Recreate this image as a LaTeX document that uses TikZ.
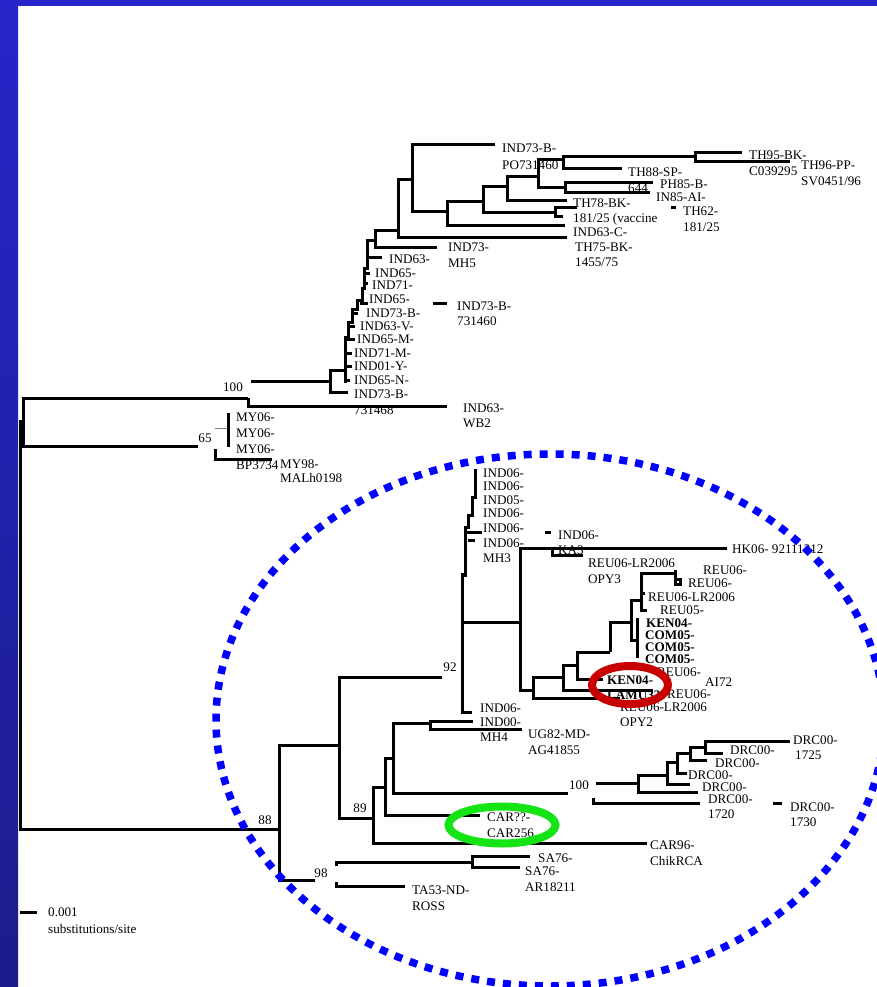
\documentclass[tikz,border=0pt]{standalone}
\usepackage{fontspec}
\setmainfont{Liberation Serif}
\definecolor{frametop}{RGB}{38,38,202}
\definecolor{framebot}{RGB}{28,28,140}
\definecolor{ringred}{RGB}{200,0,0}
\definecolor{ringgreen}{RGB}{20,228,20}
\begin{document}
\begin{tikzpicture}[x=.03cm,y=-.03cm,font=\fontsize{11.2}{13.6}\selectfont,
  br/.style={line width=.09cm},
  lab/.style={anchor=west,inner sep=0pt},
  labb/.style={lab,font=\fontsize{11.2}{13.6}\selectfont\bfseries},
  bs/.style={inner sep=0pt},
  ring/.style={line width=.24cm}]
\useasboundingbox(0,0)rectangle(877,987);
\shade[top color=frametop,bottom color=framebot](0,0)rectangle(18,987);
\fill[frametop](0,0)rectangle(877,6);
\draw[br](23,421)--(20,421)--(20,829)--(279,829);
\draw[br](248,398)--(23,398)--(23,446)--(198,446);
\draw[br](215,449)--(215,459)--(272,459);
\draw[line width=.03cm,gray](215,428)--(228,428);
\draw[br](228,413)--(228,447);
\draw[br](248,398)--(248,406)--(447,406);
\draw[br](251,381)--(330,381);
\draw[br](345,370)--(330,370)--(330,392)--(348,392);
\draw[br](345,383)--(345,337)--(348,337)--(348,322)--(352,322)--(352,309)--(357,309)--(357,300)--(362,300)--(362,288)--(364,288)--(364,268)--(367,268)--(367,257)--(382,257);
\foreach \y/\a/\b in {380/345/350,366/345/352,353/345/352,339/345/355,326/348/355,313/352/358,303/360/368,283/364/368,273/364/370}\draw[br](\a,\y)--(\b,\y);
\draw[br](367,257)--(367,240)--(375,240)--(375,247)--(437,247);
\draw[br](375,240)--(375,230)--(398,230);
\draw[br](412,180)--(398,180)--(398,237)--(567,237);
\draw[br](433,303)--(447,303);
\draw[br](495,145)--(412,145)--(412,212)--(447,212);
\draw[br](483,202)--(447,202)--(447,225)--(565,225);
\draw[br](507,187)--(483,187)--(483,213)--(555,213);
\draw[br](577,208)--(555,208)--(555,217)--(563,217);
\draw[br](538,177)--(507,177)--(507,201)--(567,201);
\draw[br](563,160)--(538,160)--(538,188)--(565,188);
\draw[br](695,157)--(563,157)--(563,169)--(622,169);
\draw[br](653,183)--(565,183)--(565,193)--(650,193);
\draw[br](742,153)--(695,153)--(695,162)--(790,162);
\draw[br](671,208)--(676,208);
\draw[br](279,829)--(279,880)--(315,880);
\draw[br](279,829)--(279,745)--(339,745);
\draw[br](336,866)--(336,862)--(472,862);
\draw[br](336,882)--(336,886)--(405,886);
\draw[br](530,856)--(472,856)--(472,867)--(520,867);
\draw[br](442,677)--(339,677)--(339,818)--(373,818);
\draw[br](385,787)--(373,787)--(373,843)--(647,843);
\draw[br](393,758)--(385,758)--(385,815)--(480,815);
\draw[br](430,723)--(393,723)--(393,793)--(568,793);
\draw[br](473,721)--(430,721)--(430,729)--(522,729);
\draw[br](638,783)--(596,783);
\draw[br](593,798)--(593,803)--(700,803);
\draw[br](667,775)--(638,775)--(638,792)--(698,792);
\draw[br](677,762)--(667,762)--(667,784)--(690,784);
\draw[br](690,753)--(677,753)--(677,773)--(687,773);
\draw[br](705,747)--(690,747)--(690,760)--(707,760);
\draw[br](790,741)--(705,741)--(705,753)--(723,753);
\draw[br](773,803)--(782,803);
\draw[br](462,573)--(462,712)--(472,712);
\draw[br](462,622)--(520,622);
\draw[br](462,575)--(465,575)--(465,527)--(468,527)--(468,515)--(472,515)--(472,497)--(475,497)--(475,469);
\draw[br](465,532)--(482,532);
\draw[br](468,540)--(475,540);
\draw[br](545,532)--(551,532);
\draw[br](552,548)--(520,548)--(520,690)--(533,690);
\draw[br](727,548)--(552,548)--(552,555)--(583,555);
\draw[br](563,677)--(533,677)--(533,698)--(620,698);
\draw[br](577,665)--(563,665)--(563,690)--(653,690);
\draw[br](610,652)--(577,652)--(577,679)--(603,679);
\draw[br](610,652)--(610,622)--(631,622);
\draw[br](641,600)--(631,600)--(631,640)--(637,640);
\draw[br](637,618)--(637,658);
\draw[br](675,573)--(641,573)--(641,610)--(647,610);
\draw[br](641,593)--(645,593);
\draw[br](675,570)--(675,584)--(680,584)--(680,579)--(675,579);
\draw[br](20,912)--(37,912);
\foreach \n/\x/\y/\t in {
 a1/502/148/{IND73-B-},a1b/502/165/{PO731460},a2/628/172/{TH88-SP-},a2b/628/188/{644},
 a3/660/184/{PH85-B-},a4/656/197/{IN85-AI-},a5/749/155/{TH95-BK-},a5b/749/171/{C039295},
 a6/801/165/{TH96-PP-},a6b/801/181/{SV0451/96},a7/683/211/{TH62-},a7b/683/227/{181/25},
 a8/573/203/{TH78-BK-},a8b/573/219/{181/25 (vaccine},a9/573/232/{IND63-C-},
 a10/575/247/{TH75-BK-},a10b/575/262/{1455/75},a11/448/247/{IND73-},a11b/448/263/{MH5},
 a12/389/259/{IND63-},a13/375/273/{IND65-},a14/372/285/{IND71-},a15/369/299/{IND65-},
 a16/366/313/{IND73-B-},a17/360/326/{IND63-V-},a18/357/339/{IND65-M-},a19/354/353/{IND71-M-},
 a20/354/366/{IND01-Y-},a21/354/380/{IND65-N-},a22/354/394/{IND73-B-},a22b/354/410/{731468},
 a23/457/306/{IND73-B-},a23b/457/321/{731460},a24/463/408/{IND63-},a24b/463/423/{WB2},
 m1/236/417/{MY06-},m2/236/433/{MY06-},m3/236/449/{MY06-},m3b/236/465/{BP3734},
 m4/280/464/{MY98-},m4b/280/478/{MALh0198},
 c1/483/473/{IND06-},c2/483/486/{IND06-},c3/483/500/{IND05-},c4/483/513/{IND06-},c5/483/528/{IND06-},
 c6/483/543/{IND06-},c6b/483/558/{MH3},c7/558/535/{IND06-},c7b/558/550/{KA3},c8/732/549/{HK06- 92111312},
 c9/588/563/{REU06-LR2006},c9b/588/579/{OPY3},c10/703/570/{REU06-},c11/688/583/{REU06-},
 c12/648/597/{REU06-LR2006},c13/660/610/{REU05-},c14/657/672/{REU06-},c15/705/682/{AI72},
 c16/667/694/{REU06-},c17/620/707/{REU06-LR2006},c17b/620/722/{OPY2},
 c18/480/708/{IND06-},c19/480/722/{IND00-},c19b/480/737/{MH4},c20/528/734/{UG82-MD-},c20b/528/750/{AG41855},
 d1/793/740/{DRC00-},d1b/795/755/{1725},d2/730/750/{DRC00-},d3/715/763/{DRC00-},d4/688/775/{DRC00-},
 d5/702/787/{DRC00-},d6/708/799/{DRC00-},d6b/708/814/{1720},d7/790/807/{DRC00-},d7b/790/822/{1730},
 e1/487/817/{CAR??-},e1b/487/833/{CAR256},e2/650/845/{CAR96-},e2b/650/861/{ChikRCA},
 e3/538/858/{SA76-},e4/525/871/{SA76-},e4b/525/887/{AR18211},e5/412/890/{TA53-ND-},e5b/412/906/{ROSS},
 sc/48/912/{0.001},scb/48/929/{substitutions/site}}
 \node[lab](\n)at(\x,\y){\t};
\foreach \n/\x/\y/\t in {k1/646/623/{KEN04-},k2/645/635/{COM05-},k3/645/647/{COM05-},k4/645/659/{COM05-},k5/607/680/{KEN04-},k5b/607/695/{LAMU33}}
 \node[labb](\n)at(\x,\y){\t};
\foreach \n/\x/\y/\t in {b1/233/387/100,b2/205/438/65,b3/450/667/92,b4/579/785/100,b5/360/808/89,b6/265/820/88,b7/321/873/98}
 \node[bs](\n)at(\x,\y){\t};
\draw[blue,line width=.225cm,dash pattern=on .24cm off .24cm](550,720)ellipse[x radius=334,y radius=266];
\draw[ring,ringred](630,685)ellipse[x radius=38,y radius=19];
\draw[ring,ringgreen](502,825)ellipse[x radius=53.5,y radius=18.5];
\end{tikzpicture}
\end{document}
